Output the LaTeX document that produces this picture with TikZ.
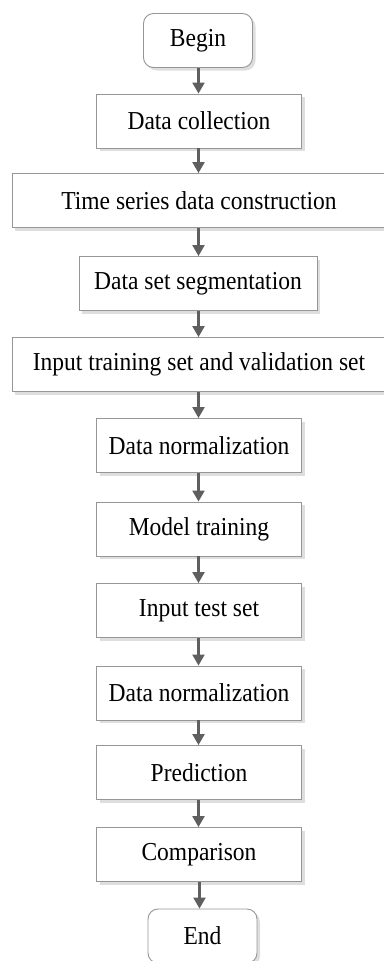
\documentclass[tikz,border=0pt]{standalone}
\usepackage{fontspec}
\usepackage{graphicx}
\setmainfont{Liberation Serif}
\usetikzlibrary{arrows.meta,shadows}
\definecolor{boxline}{RGB}{150,150,150}
\definecolor{arrowc}{RGB}{95,95,95}
\definecolor{shadowc}{RGB}{222,222,222}
\newcommand{\tallt}[1]{\scalebox{1}[1.1]{#1}}
\begin{document}
\begin{tikzpicture}[x=1pt,y=1pt,
  stepbox/.style={draw=boxline, line width=0.9pt, fill=white, inner sep=0pt,
    minimum height=54pt, font=\fontsize{23.5}{26}\selectfont,
    drop shadow={shadow xshift=3pt, shadow yshift=-3pt, fill=shadowc, opacity=1}},
  termbox/.style={stepbox, rounded corners=10pt},
  flow/.style={draw=arrowc, line width=2.2pt, -{Triangle[width=12pt,length=11pt]}}]
\useasboundingbox (0,0) rectangle (383,-961);
\node[termbox, minimum width=109pt] (b) at (198,-40.5) {\tallt{Begin}};
\node[stepbox, minimum width=205pt] (n1) at (199,-121) {\tallt{Data collection}};
\node[stepbox, minimum width=374pt] (n2) at (199,-200.5) {\tallt{Time series data construction}};
\node[stepbox, minimum width=238pt] (n3) at (198,-283.5) {\tallt{Data set segmentation}};
\node[stepbox, minimum width=374pt] (n4) at (199,-364.5) {\tallt{Input training set and validation set}};
\node[stepbox, minimum width=205pt] (n5) at (199,-445.5) {\tallt{Data normalization}};
\node[stepbox, minimum width=205pt] (n6) at (199,-529) {\tallt{Model training}};
\node[stepbox, minimum width=205pt] (n7) at (199,-610.5) {\tallt{Input test set}};
\node[stepbox, minimum width=205pt] (n8) at (199,-693) {\tallt{Data normalization}};
\node[stepbox, minimum width=205pt] (n9) at (199,-772.5) {\tallt{Prediction}};
\node[stepbox, minimum width=205pt] (n10) at (199,-854.5) {\tallt{Comparison}};
\node[termbox, minimum width=109pt] (e) at (202.5,-936) {\tallt{End}};
\foreach \a/\b in {b/n1,n1/n2,n2/n3,n3/n4,n4/n5,n5/n6,n6/n7,n7/n8,n8/n9,n9/n10}
  \draw[flow] (\a.south -| 198.5,0) -- (\b.north -| 198.5,0);
\draw[flow] (n10.south -| 199.5,0) -- (e.north -| 199.5,0);
\end{tikzpicture}
\end{document}
